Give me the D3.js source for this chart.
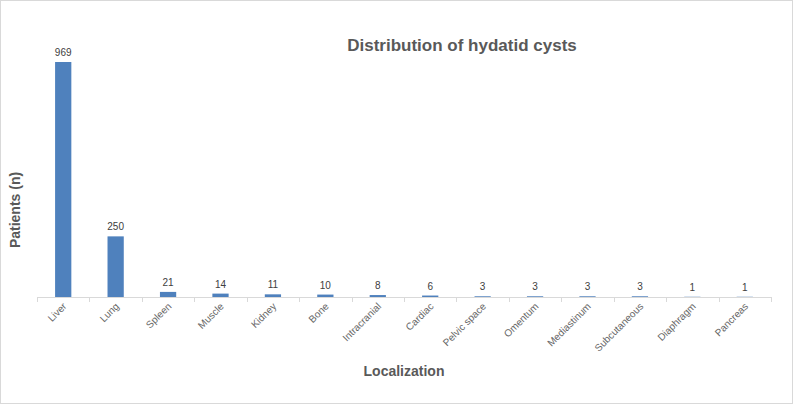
<!DOCTYPE html>
<html><head><meta charset="utf-8">
<script src="https://cdn.jsdelivr.net/npm/d3@7/dist/d3.min.js"></script>
<style>body{margin:0;background:#fff}svg{display:block}</style>
</head><body>
<script>
const categories = ["Liver","Lung","Spleen","Muscle","Kidney","Bone","Intracranial","Cardiac","Pelvic space","Omentum","Mediastinum","Subcutaneous","Diaphragm","Pancreas"];
const patients = [969,250,21,14,11,10,8,6,3,3,3,3,1,1];
const title = "Distribution of hydatid cysts";
const xTitle = "Localization";
const yTitle = "Patients (n)";

const W = 793, H = 404;
const svg = d3.select("body").append("svg").attr("width", W).attr("height", H);
svg.append("rect").attr("x",0.5).attr("y",0.5).attr("width",W-1).attr("height",H-1)
  .attr("fill","#fff").attr("stroke","#d9d9d9");

const x = d3.scaleBand().domain(categories).range([37, 771]).paddingInner(0.69).paddingOuter(0.345);
const y = d3.scaleLinear().domain([0, 969]).range([297, 62]);

// axis
const g = svg.append("g");
g.append("line").attr("x1",37).attr("x2",771).attr("y1",297.5).attr("y2",297.5).attr("stroke","#d9d9d9");
const step = (771-37)/categories.length;
d3.range(categories.length+1).forEach(i=>{
  const xx = Math.round(37 + i*step)+0.5;
  g.append("line").attr("x1",xx).attr("x2",xx).attr("y1",297).attr("y2",302).attr("stroke","#d9d9d9");
});

svg.selectAll("rect.bar").data(patients).join("rect").attr("class","bar")
  .attr("x",(d,i)=>x(categories[i])).attr("width",x.bandwidth())
  .attr("y",d=>y(d)).attr("height",d=>297-y(d)).attr("fill","#4f81bd");

svg.selectAll("text.val").data(patients).join("text").attr("class","val")
  .attr("x",(d,i)=>x(categories[i])+x.bandwidth()/2).attr("y",d=>y(d)-6)
  .attr("text-anchor","middle").attr("font-family","Liberation Sans, Arial, sans-serif")
  .attr("font-size",10).attr("fill","#404040").text(d=>d);

svg.selectAll("text.cat").data(categories).join("text").attr("class","cat")
  .attr("transform",d=>`translate(${x(d)+x.bandwidth()/2+4},${307}) rotate(-45)`)
  .attr("text-anchor","end").attr("font-family","Liberation Sans, Arial, sans-serif")
  .attr("font-size",10).attr("fill","#666666").text(d=>d);

svg.append("text").attr("x",462).attr("y",51).attr("text-anchor","middle")
  .attr("font-family","Liberation Sans, Arial, sans-serif").attr("font-weight","bold")
  .attr("font-size",17).attr("fill","#595959").text(title);

svg.append("text").attr("x",404).attr("y",376).attr("text-anchor","middle")
  .attr("font-family","Liberation Sans, Arial, sans-serif").attr("font-weight","bold")
  .attr("font-size",14).attr("fill","#595959").text(xTitle);

svg.append("text").attr("transform","translate(20,210) rotate(-90)").attr("text-anchor","middle")
  .attr("font-family","Liberation Sans, Arial, sans-serif").attr("font-weight","bold")
  .attr("font-size",14).attr("fill","#595959").text(yTitle);
</script>
</body></html>
